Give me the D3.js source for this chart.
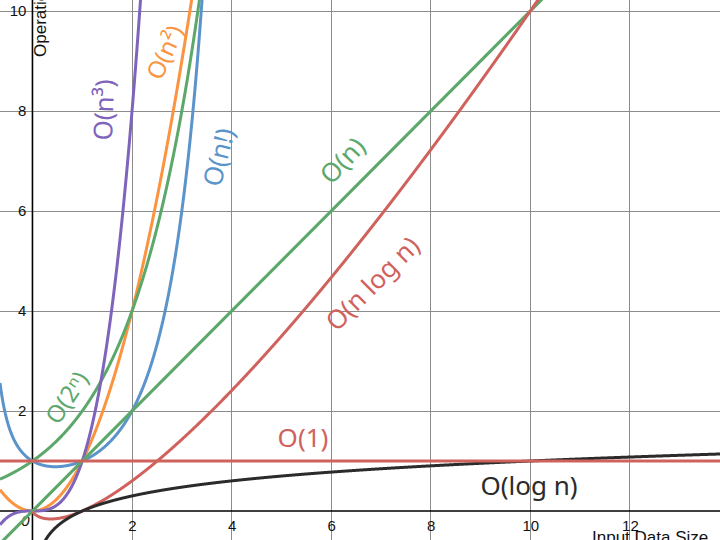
<!DOCTYPE html>
<html>
<head>
<meta charset="utf-8">
<script src="https://cdn.jsdelivr.net/npm/d3@7"></script>
<style>
  html, body { margin: 0; padding: 0; background: #fff; }
  svg { display: block; }
</style>
</head>
<body>
<svg id="chart" width="720" height="540"></svg>
<script>
// ---- data ----
const seriesNames  = ["O(1)", "O(log n)", "O(n)", "O(n log n)", "O(n²)", "O(n³)", "O(2ⁿ)", "O(n!)"];
const seriesColors = ["#d0625e", "#2b2b2b", "#5ca76a", "#d0625e", "#fb9440", "#7f64bb", "#5ca76a", "#5b94cb"];
// Each growth function as plotted (the chart is a plot of these functions)
function gamma(z) {
  const g = 7, c = [0.99999999999980993, 676.5203681218851, -1259.1392167224028, 771.32342877765313,
    -176.61502916214059, 12.507343278686905, -0.13857109526572012, 9.9843695780195716e-6, 1.5056327351493116e-7];
  if (z < 0.5) return Math.PI / (Math.sin(Math.PI * z) * gamma(1 - z));
  z -= 1;
  let x = c[0];
  for (let i = 1; i < g + 2; i++) x += c[i] / (z + i);
  const t = z + g + 0.5;
  return Math.sqrt(2 * Math.PI) * Math.pow(t, z + 0.5) * Math.exp(-t) * x;
}
const seriesFns = [
  n => 1,
  n => Math.log10(n),
  n => n,
  n => n * Math.log10(n),
  n => n * n,
  n => n * n * n,
  n => Math.pow(2, n),
  n => gamma(n + 1)
];
const xTicks = [2, 4, 6, 8, 10, 12];
const yTicks = [2, 4, 6, 8, 10];
const xDomain = [-0.652, 13.81];
const yDomain = [-0.58, 10.22];

// ---- layout ----
const W = 720, H = 540;
const svg = d3.select("#chart");
const x = d3.scaleLinear().domain(xDomain).range([0, W]);
const y = d3.scaleLinear().domain(yDomain).range([H, 0]);

svg.append("defs").append("clipPath").attr("id", "clip")
  .append("rect").attr("x", 0).attr("y", 0).attr("width", W).attr("height", H);

// grid
const grid = svg.append("g");
grid.selectAll("line.vx").data(xTicks).join("line")
  .attr("x1", d => x(d)).attr("x2", d => x(d)).attr("y1", 0).attr("y2", H)
  .attr("stroke", "#8c8c8c").attr("stroke-width", 1).attr("shape-rendering", "crispEdges");
grid.selectAll("line.hy").data(yTicks).join("line")
  .attr("x1", 0).attr("x2", W).attr("y1", d => y(d)).attr("y2", d => y(d))
  .attr("stroke", "#8c8c8c").attr("stroke-width", 1).attr("shape-rendering", "crispEdges");

// axes lines
svg.append("line").attr("x1", x(0)).attr("x2", x(0)).attr("y1", 0).attr("y2", H)
  .attr("stroke", "#000").attr("stroke-width", 1.6);
svg.append("line").attr("x1", 0).attr("x2", W).attr("y1", y(0)).attr("y2", y(0))
  .attr("stroke", "#000").attr("stroke-width", 1.6);

// tick labels through d3 axes
const xAxis = svg.append("g").attr("transform", `translate(0,${y(0)})`)
  .call(d3.axisBottom(x).tickValues(xTicks).tickSize(0).tickPadding(9));
const yAxis = svg.append("g").attr("transform", `translate(${x(0)},0)`)
  .call(d3.axisLeft(y).tickValues(yTicks).tickSize(0).tickPadding(6));
[xAxis, yAxis].forEach(a => {
  a.select(".domain").remove();
  a.selectAll("text").attr("font-family", "Liberation Sans, Arial, sans-serif")
    .attr("font-size", 15).attr("fill", "#111");
});
svg.append("text").attr("x", x(0) - 7).attr("y", y(0) + 15).attr("text-anchor", "middle")
  .attr("font-family", "Liberation Sans, Arial, sans-serif").attr("font-size", 15)
  .attr("font-style", "italic").attr("fill", "#111").text("0");

// axis titles
svg.append("text").attr("transform", `translate(${x(0) + 14},57) rotate(-90)`)
  .attr("font-family", "Liberation Sans, Arial, sans-serif").attr("font-size", 17)
  .attr("fill", "#111").text("Operations");
svg.append("text").attr("x", 592).attr("y", 543)
  .attr("font-family", "Liberation Sans, Arial, sans-serif").attr("font-size", 17)
  .attr("fill", "#111").text("Input Data Size");

// curves
const xs = d3.range(xDomain[0], xDomain[1] + 0.01, 0.005);
const line = d3.line()
  .defined(d => isFinite(d[1]))
  .x(d => x(d[0])).y(d => y(Math.max(-5, Math.min(15, d[1]))));
const drawOrder = [4, 6, 7, 5, 2, 3, 1, 0];
const curves = svg.append("g").attr("clip-path", "url(#clip)");
drawOrder.forEach(i => {
  const pts = xs.map(v => [v, (i === 1 || i === 3) && v <= 0 ? NaN : seriesFns[i](v)]);
  curves.append("path").datum(pts)
    .attr("fill", "none").attr("stroke", seriesColors[i])
    .attr("stroke-width", 3).attr("stroke-linejoin", "round").attr("d", line);
});

// hand-placed labels
const labelPos = [
  { cx: 303, cy: 437, rot: 0,   size: 26 },
  { cx: 529, cy: 485, rot: 0,   size: 26 },
  { cx: 342, cy: 160, rot: -47, size: 26 },
  { cx: 372, cy: 283, rot: -45, size: 26 },
  { cx: 164, cy: 52,  rot: -66, size: 24 },
  { cx: 103, cy: 110, rot: -88, size: 26 },
  { cx: 66,  cy: 397, rot: -57, size: 24 },
  { cx: 218, cy: 157, rot: -76, size: 26 }
];
labelPos.forEach((p, i) => {
  svg.append("text")
    .attr("transform", `translate(${p.cx},${p.cy}) rotate(${p.rot})`)
    .attr("text-anchor", "middle").attr("dominant-baseline", "central")
    .attr("font-family", "Noto Sans, sans-serif").attr("font-size", p.size)
    .attr("fill", seriesColors[i]).text(seriesNames[i]);
});
</script>
</body>
</html>
